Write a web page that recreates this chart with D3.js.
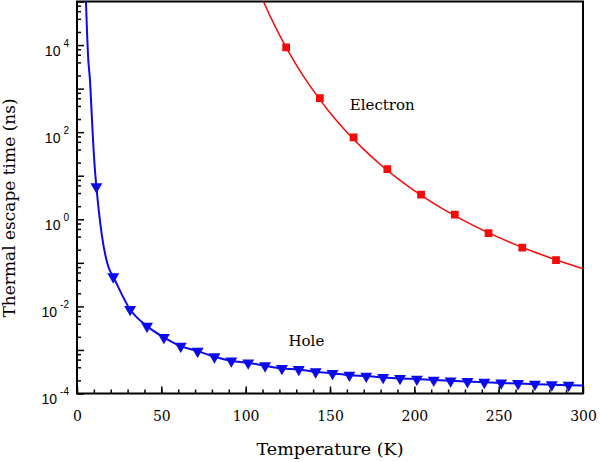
<!DOCTYPE html>
<html>
<head>
<meta charset="utf-8">
<script src="https://cdn.jsdelivr.net/npm/d3@7"></script>
<style>
  body { margin: 0; background: #fff; }
  svg { display: block; font-family: "DejaVu Serif", serif; }
  .tick line { stroke: #000; stroke-width: 1.5; }
</style>
</head>
<body>
<svg id="chart" width="600" height="462"></svg>
<script>
// curve through the electron data (T in K, tau in ns)
const electronLineT = [110, 115, 120, 130, 140, 150, 160, 170, 180, 190, 200, 210, 220, 230, 240, 250, 260, 270, 280, 290, 300];
const electronLineTau = [1.12e5, 4.2e4, 1.72e4, 3500, 908, 279, 99.8, 40.2, 17.9, 8.7, 4.54, 2.52, 1.48, 0.906, 0.578, 0.383, 0.262, 0.184, 0.133, 0.098, 0.074];
// electron markers
const electronT = [124, 144, 164, 184, 204, 224, 244, 264, 284];
const electronTau = [8850, 605, 75.5, 14.1, 3.66, 1.28, 0.484, 0.223, 0.116];

// curve through the hole data, steep part at low T
const holeLineT = [5.2, 6.7, 7.7, 8.3, 9.3, 10.5, 11.5, 14.6, 18.6, 21.5];
const holeLineTau = [1.3e5, 4500, 1570, 550, 94, 16, 5.6, 0.47, 0.081, 0.048];
// hole markers
const holeT = [11.5, 21.5, 31.5, 41.5, 51.5, 61.5, 71.5, 81.5, 91.5, 101.5, 111.5, 121.5, 131.5, 141.5, 151.5, 161.5, 171.5, 181.5, 191.5, 201.5, 211.5, 221.5, 231.5, 241.5, 251.5, 261.5, 271.5, 281.5, 291.5];
const holeTau = [5.6, 0.048, 0.0085, 0.00352, 0.00194, 0.00122, 0.00094, 0.000695, 0.00056, 0.000506, 0.000432, 0.000376, 0.000357, 0.000315, 0.000289, 0.000264, 0.000251, 0.000234, 0.000222, 0.000214, 0.000203, 0.000195, 0.000188, 0.000181, 0.000175, 0.000169, 0.000164, 0.000159, 0.000155];
const holeEndT = [300];
const holeEndTau = [0.000152];

const xTicks = [0, 50, 100, 150, 200, 250, 300];
const yExponents = [-4, -3, -2, -1, 0, 1, 2, 3, 4, 5];
const yLabelExponents = [-4, -2, 0, 2, 4];

const svg = d3.select('#chart');
const margin = {left: 77, right: 17, top: 1.5, bottom: 68.5};
const width = 600, height = 462;

const x = d3.scaleLinear()
  .domain([0, 300])
  .range([margin.left, width - margin.right]);

const y = d3.scaleLog()
  .domain([1e-4, 1e5])
  .range([height - margin.bottom, margin.top]);

svg.append('clipPath')
    .attr('id', 'plot-clip')
  .append('rect')
    .attr('x', x(0))
    .attr('y', y(1e5))
    .attr('width', x(300) - x(0))
    .attr('height', y(1e-4) - y(1e5));

// x axis: minor every 10 K, major every 50 K, ticks pointing inward
svg.append('g')
    .attr('transform', 'translate(0,' + y(1e-4) + ')')
    .call(d3.axisBottom(x).tickValues(d3.range(10, 300, 10)).tickSize(-4).tickFormat(''))
    .call(g => g.select('.domain').remove());

svg.append('g')
    .attr('class', 'x axis')
    .attr('transform', 'translate(0,' + y(1e-4) + ')')
    .call(d3.axisBottom(x).tickValues(xTicks).tickSize(-7).tickSizeOuter(0).tickPadding(18))
    .call(g => g.select('.domain').remove())
    .call(g => g.selectAll('text')
      .attr('fill', '#000')
      .style('font-size', '14px')
      .style('font-family', '"DejaVu Serif", serif'));

// y axis: decade ticks plus minor ticks at 2, 4, 6, 8
const yMinor = [];
yExponents.slice(0, -1).forEach(e => [2, 4, 6, 8].forEach(m => yMinor.push(m * Math.pow(10, e))));

svg.append('g')
    .attr('transform', 'translate(' + x(0) + ',0)')
    .call(d3.axisLeft(y).tickValues(yMinor).tickSize(-4).tickFormat(''))
    .call(g => g.select('.domain').remove());

const yAxis = svg.append('g')
    .attr('class', 'y axis')
    .attr('transform', 'translate(' + x(0) + ',0)')
    .call(d3.axisLeft(y).tickValues(yExponents.map(e => Math.pow(10, e))).tickSize(-7).tickFormat(''))
    .call(g => g.select('.domain').remove());

yAxis.selectAll('.tick')
  .filter(d => yLabelExponents.includes(Math.round(Math.log10(d))))
  .each(function(d) {
    const e = Math.round(Math.log10(d));
    const t = d3.select(this).append('text')
      .attr('fill', '#000')
      .attr('text-anchor', 'end')
      .attr('x', -8)
      .attr('y', 10)
      .style('font-size', '14px');
    t.append('tspan').text('10');
    t.append('tspan')
      .attr('dx', 3)
      .attr('dy', -9)
      .style('font-size', '10px')
      .text(e);
  });

// frame
svg.append('rect')
    .attr('x', x(0))
    .attr('y', y(1e5))
    .attr('width', x(300) - x(0))
    .attr('height', y(1e-4) - y(1e5))
    .attr('fill', 'none')
    .attr('stroke', '#000')
    .attr('stroke-width', 2);

const line = d3.line()
  .curve(d3.curveMonotoneX)
  .x(d => x(d[0]))
  .y(d => y(d[1]));

const plot = svg.append('g').attr('clip-path', 'url(#plot-clip)');

const electronLine = electronLineT.map((t, i) => [t, electronLineTau[i]]);
const holeLine = holeLineT.map((t, i) => [t, holeLineTau[i]])
  .concat(holeT.slice(2).map((t, i) => [t, holeTau[i + 2]]))
  .concat(holeEndT.map((t, i) => [t, holeEndTau[i]]));

plot.append('path')
    .attr('d', line(electronLine))
    .attr('fill', 'none')
    .attr('stroke', '#f50a0a')
    .attr('stroke-width', 1.5);

plot.append('path')
    .attr('d', line(holeLine))
    .attr('fill', 'none')
    .attr('stroke', '#0a0aeb')
    .attr('stroke-width', 2);

plot.selectAll('path.electron')
  .data(electronT.map((t, i) => [t, electronTau[i]]))
  .enter().append('path')
    .attr('class', 'electron')
    .attr('d', d3.symbol(d3.symbolSquare, 60))
    .attr('transform', d => 'translate(' + [x(d[0]), y(d[1])] + ')')
    .attr('fill', '#f50a0a');

plot.selectAll('path.hole')
  .data(holeT.map((t, i) => [t, holeTau[i]]))
  .enter().append('path')
    .attr('class', 'hole')
    .attr('d', d3.symbol(d3.symbolTriangle, 62))
    .attr('transform', d => 'translate(' + [x(d[0]), y(d[1])] + ') rotate(180)')
    .attr('fill', '#0a0aeb');

// series labels
svg.append('text')
    .attr('x', x(181))
    .attr('y', y(322))
    .attr('text-anchor', 'middle')
    .style('font-size', '15px')
    .text('Electron');

svg.append('text')
    .attr('x', x(136))
    .attr('y', y(1.26e-3))
    .attr('text-anchor', 'middle')
    .style('font-size', '15px')
    .text('Hole');

// axis titles
svg.append('text')
    .attr('x', (x(0) + x(300)) / 2)
    .attr('y', 455)
    .attr('text-anchor', 'middle')
    .style('font-size', '17.5px')
    .text('Temperature (K)');

svg.append('text')
    .attr('transform', 'translate(15,' + 208 + ') rotate(-90)')
    .attr('text-anchor', 'middle')
    .style('font-size', '17px')
    .text('Thermal escape time (ns)');
</script>
</body>
</html>
